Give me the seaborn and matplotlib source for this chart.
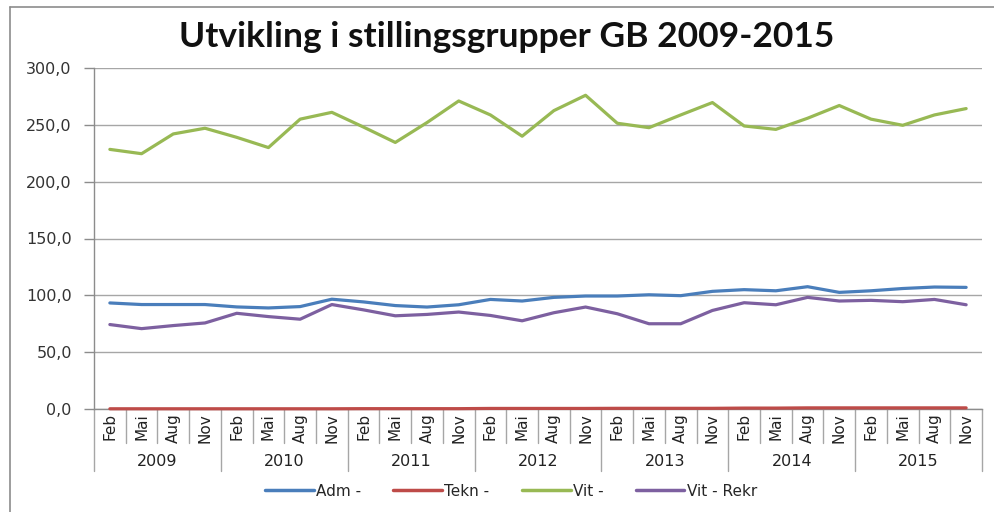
import numpy as np
import pandas as pd
import matplotlib
matplotlib.use("Agg")
import matplotlib.pyplot as plt
import matplotlib.transforms as mtransforms
from matplotlib.lines import Line2D
import seaborn as sns

# ---- data ----
YEARS = ["2009", "2010", "2011", "2012", "2013", "2014", "2015"]
MONTHS = ["Feb", "Mai", "Aug", "Nov"]

adm = [93.3, 91.9, 91.9, 91.9, 89.8, 88.9, 90.1, 96.6,
       94.2, 91.0, 89.7, 91.7, 96.4, 95.0, 98.2, 99.4,
       99.4, 100.5, 99.7, 103.5, 105.0, 104.0, 107.6, 102.6,
       104.0, 106.0, 107.3, 107.0]
tekn = [0.2, 0.2, 0.2, 0.2, 0.2, 0.2, 0.2, 0.2,
        0.3, 0.3, 0.3, 0.3, 0.5, 0.5, 0.5, 0.5,
        0.6, 0.6, 0.6, 0.6, 0.8, 0.8, 1.0, 1.0,
        1.0, 1.0, 1.0, 1.0]
vit = [228.4, 224.6, 242.0, 247.0, 239.0, 230.0, 255.0, 261.0,
       248.0, 234.5, 252.0, 271.0, 258.7, 240.0, 262.5, 276.0,
       251.4, 247.5, 258.7, 269.6, 249.0, 246.0, 255.8, 267.0,
       255.0, 249.6, 258.7, 264.3]
rekr = [74.3, 70.7, 73.4, 75.7, 84.2, 81.3, 79.0, 91.9,
        87.2, 82.0, 83.2, 85.3, 82.3, 77.6, 84.7, 89.7,
        83.8, 75.0, 75.0, 86.7, 93.5, 91.7, 98.2, 95.0,
        95.6, 94.4, 96.4, 91.7]

SERIES = ["Adm -", "Tekn -", "Vit -", "Vit - Rekr"]
PALETTE = {"Adm -": "#4A7EBB", "Tekn -": "#BE4B48",
           "Vit -": "#98B954", "Vit - Rekr": "#7D60A0"}

n = len(adm)
month_labels = MONTHS * len(YEARS)
df = pd.DataFrame({
    "idx": np.tile(np.arange(n), len(SERIES)),
    "value": adm + tekn + vit + rekr,
    "serie": np.repeat(SERIES, n),
})

sns.set_theme(style="white")
plt.rcParams["font.family"] = ["DejaVu Sans"]

GRID = "#A6A6A6"
AXIS = "#8C8C8C"

fig = plt.figure(figsize=(9.94, 5.12), dpi=100)
ax = fig.add_axes([94 / 994, 1 - 409 / 512, (982 - 94) / 994, (409 - 68) / 512])

sns.lineplot(data=df, x="idx", y="value", hue="serie", palette=PALETTE,
             hue_order=SERIES, linewidth=2.3, ax=ax, legend=False)
for line in ax.lines:
    line.set_clip_on(False)
    line.set_zorder(3)

ax.set_xlim(-0.5, n - 0.5)
ax.set_ylim(0, 300)
ax.set_yticks(np.arange(0, 301, 50))
ax.set_yticklabels([f"{v:.1f}".replace(".", ",") for v in np.arange(0, 301, 50)],
                   fontsize=11.5, color="#333333")
ax.yaxis.grid(True, color=GRID, linewidth=1)
ax.set_axisbelow(True)
ax.tick_params(axis="y", length=7, width=1, color=AXIS, pad=9, left=True)

ax.set_xticks(np.arange(n))
ax.set_xticklabels(month_labels, rotation=90, fontsize=11,
                   family=["Liberation Sans Narrow", "DejaVu Sans"], color="#222222")
ax.tick_params(axis="x", length=0, pad=3)
ax.set_xlabel("")
ax.set_ylabel("")

for side in ["top", "right"]:
    ax.spines[side].set_visible(False)
for side in ["left", "bottom"]:
    ax.spines[side].set_color(AXIS)
    ax.spines[side].set_linewidth(1)

# multi-level category axis separators
trans = mtransforms.blended_transform_factory(ax.transData, ax.transAxes)
for i in range(n + 1):
    low = -0.182 if i % 4 == 0 else -0.0997
    ax.add_line(Line2D([i - 0.5, i - 0.5], [0, low], transform=trans,
                       color=GRID, linewidth=1, clip_on=False))
for k, yr in enumerate(YEARS):
    ax.text(4 * k + 1.5, -0.155, yr, transform=trans, ha="center", va="center",
            fontsize=11.5, color="#222222")

# title
fig.text(0.51, 1 - 37 / 512, "Utvikling i stillingsgrupper GB 2009-2015",
         ha="center", va="center", fontsize=25.5, fontweight="bold",
         family=["Lato", "DejaVu Sans"], color="#111111")

# legend
handles = [Line2D([], [], color=PALETTE[s], linewidth=2.5) for s in SERIES]
fig.legend(handles, SERIES, loc="center", bbox_to_anchor=(0.514, 1 - 491 / 512),
           ncol=4, frameon=False, fontsize=11, handlelength=3.2,
           handletextpad=0.15, columnspacing=2.1)

# outer chart frame
fig.add_artist(Line2D([10 / 994, 10 / 994], [0, 1 - 7 / 512], transform=fig.transFigure,
                      color="#8C8C8C", linewidth=1.2))
fig.add_artist(Line2D([10 / 994, 1], [1 - 7 / 512, 1 - 7 / 512], transform=fig.transFigure,
                      color="#8C8C8C", linewidth=1.2))

fig.savefig("out.png", dpi=100)
